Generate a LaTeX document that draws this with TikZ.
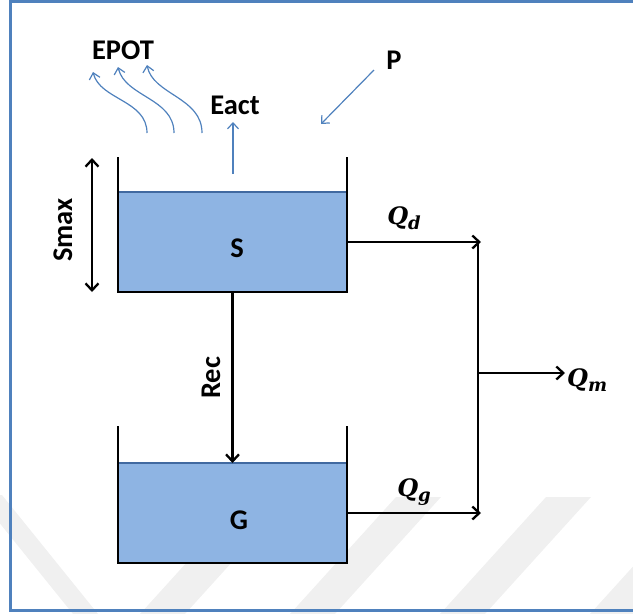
\documentclass[tikz,border=0pt]{standalone}
\usepackage{fontspec}
\setmainfont{Carlito}
\newfontfamily\qfam{DejaVu Serif}
\usetikzlibrary{arrows.meta}
\definecolor{frameblue}{RGB}{79,129,189}
\definecolor{water}{RGB}{142,180,227}
\definecolor{waterline}{RGB}{65,105,160}
\definecolor{wm}{RGB}{240,240,240}
\newcommand{\flowq}[1]{Q\raisebox{-5pt}{\fontsize{18}{20}\selectfont #1}}
\tikzset{
  lbl/.style={font=\fontsize{28.5}{32}\selectfont\bfseries, inner sep=0pt},
  mlbl/.style={font=\fontsize{24}{28}\selectfont\qfam\bfseries\itshape, inner sep=0pt},
  wall/.style={line width=2.6pt, line join=miter},
  flow/.style={line width=2.3pt, -{Straight Barb[length=7pt,width=13pt]}},
  dflow/.style={line width=2.3pt, {Straight Barb[length=7pt,width=13pt]}-{Straight Barb[length=7pt,width=13pt]}},
  evap/.style={frameblue, line width=1.2pt, -{Straight Barb[length=6pt,width=11pt]}},
  waterbox/.style={fill=water, draw=none, minimum width=229pt, minimum height=100pt, inner sep=0pt, outer sep=0pt},
  stripe/.style={fill=wm, draw=none},
}
\begin{document}
\begin{tikzpicture}[x=1pt,y=-1pt]
\useasboundingbox (0,0) rectangle (633,614);
% faint watermark stripes
\fill[stripe] (-23,495) -- (2,495) -- (98,614) -- (73,614) -- cycle;
\foreach \b in {140,290,440,590}{
  \fill[stripe] (\b,614) -- (\b+45,614) -- (\b+151,497) -- (\b+106,497) -- cycle;
}
% frame
\draw[frameblue, line width=3pt] (645,1.5) -- (10,1.5) -- (10,610) -- (645,610);

% tank S
\node[waterbox] (S) at (232.5,242) {};
\draw[waterline, line width=1.5pt] (S.north west) -- (S.north east);
\draw[wall] (118,157) -- (S.south west) -- (S.south east) -- (347,157);
\node[lbl] (Slab) at (237,248) {S};

% tank G
\node[waterbox] (G) at (232.5,513) {};
\draw[waterline, line width=1.5pt] (G.north west) -- (G.north east);
\draw[wall] (118,426) -- (G.south west) -- (G.south east) -- (347,426);
\node[lbl] (Glab) at (239,520) {G};

% Smax
\coordinate (sm1) at (92,158);
\coordinate (sm2) at (92,292);
\draw[dflow] (sm1) -- (sm2);
\node[lbl, rotate=90] (Smax) at (63,230) {Smax};

% Rec
\draw[flow] (S.south) -- (G.north);
\node[lbl, rotate=90] (Rec) at (211,378) {Rec};

% outflows
\coordinate (jd) at (481,242);
\coordinate (jg) at (481,513);
\coordinate (ct) at (478,241);
\coordinate (cb) at (478,514);
\coordinate (jm) at (478,373);
\coordinate (qm) at (565,373);
\draw[flow] (S.east) -- (jd);
\draw[flow] (G.east) -- (jg);
\draw[line width=2.3pt] (ct) -- (cb);
\draw[flow] (jm) -- (qm);
\node[mlbl] (Qd) at (404,218) {\flowq{d}};
\node[mlbl] (Qg) at (414,492) {\flowq{g}};
\node[mlbl, anchor=west] (Qm) at (567,380) {\flowq{m}};

% evaporation
\coordinate (ea) at (233,174);
\coordinate (eb) at (233,122);
\draw[evap] (ea) -- (eb);
\node[lbl] (Eact) at (235,105) {Eact};
\node[lbl] (EPOT) at (123,50) {EPOT};
\coordinate (w1a) at (147,133); \coordinate (w1b) at (93,72);
\coordinate (w2a) at (174,133); \coordinate (w2b) at (118,67);
\coordinate (w3a) at (202,133); \coordinate (w3b) at (147,65);
\draw[evap] (w1a) .. controls (147,100) and (100,100) .. (w1b);
\draw[evap] (w2a) .. controls (174,98) and (125,97) .. (w2b);
\draw[evap] (w3a) .. controls (202,97) and (153,95) .. (w3b);

% precipitation
\coordinate (pa) at (374,70);
\coordinate (pb) at (321,124);
\draw[evap] (pa) -- (pb);
\node[lbl] (P) at (394,60) {P};
\end{tikzpicture}
\end{document}
